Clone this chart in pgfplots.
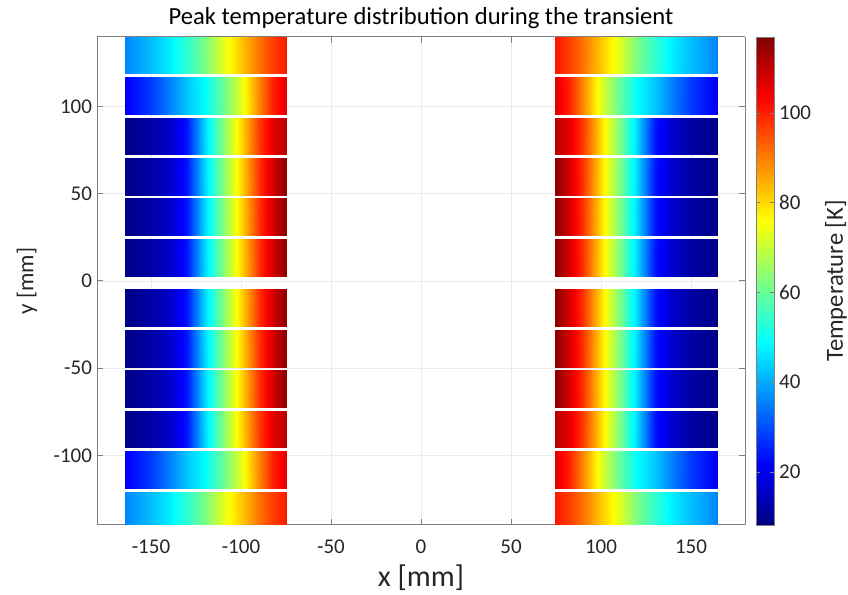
\documentclass[border=0pt]{standalone}
\usepackage{fontspec}
\setmainfont{Carlito}
\usepackage{pgfplots}
\usepackage{pgfplotstable}
\pgfplotsset{compat=1.18}
\pgfplotsset{/pgf/number format/assume math mode=true}
\definecolor{axgray}{HTML}{7F7F7F}
\definecolor{txtgray}{HTML}{262626}

% peak temperature [K] against distance from the centre |x| [mm]
% A: outermost blocks, B: second blocks, C: third blocks, D: three inner blocks
\pgfplotstableread{
x     A    B    C    D
164.5 36   21   9    9
150   42   28   12   12
140   47   35   16   16
130   54   43   24   24
120   62   49   45   45
110   73   60   63   63
100   82   73   80   80
90    91   89   97   98
82    97   100  106  108
74.7  101  106  111  116
}\prof
% two copies -> bottom (r=0) and top (r=1) edge of each block
\pgfplotstablevertcat{\profmesh}{\prof}
\pgfplotstablevertcat{\profmesh}{\prof}
\pgfplotstablecreatecol[expr={\pgfplotstablerow<10 ? 0 : 1}]{r}{\profmesh}

% #1 profile, #2 side (+1/-1), #3 y bottom, #4 y top
\newcommand{\blk}[4]{%
  \addplot3[surf, shader=interp, mesh/rows=2, point meta=explicit]
    table[x expr={#2*\thisrow{x}}, y expr={#3+\thisrow{r}*(#4-#3)}, z expr=0, meta=#1] {\profmesh};
}

\begin{document}
\begin{tikzpicture}
\begin{axis}[
    set layers,
    width=324pt, height=244pt, scale only axis,
    view={0}{90},
    xmin=-180, xmax=180, ymin=-140, ymax=140, zmin=-1, zmax=1,
    xtick={-150,-100,...,150}, ytick={-100,-50,...,100}, ztick=\empty,
    grid=major,
    major grid style={draw=black!8, line width=0.4pt},
    axis line style={draw=axgray, line width=0.5pt},
    tick style={draw=axgray, line width=0.5pt},
    tick align=inside, major tick length=3pt,
    tick label style={font=\fontsize{10.5}{12}\selectfont, text=txtgray},
    xticklabel style={yshift=-4pt},
    yticklabel style={xshift=1pt},
    every axis x label/.style={at={(axis description cs:0.5,0)}, yshift=-26.5pt, anchor=center,
        font=\fontsize{15}{17}\selectfont, text=txtgray},
    every axis y label/.style={at={(axis description cs:0,0.5)}, xshift=-35pt, rotate=90, anchor=center,
        font=\fontsize{11.5}{13}\selectfont, text=txtgray},
    title style={font=\fontsize{12.3}{14}\selectfont, text=black, yshift=-5.5pt},
    title={Peak temperature distribution during the transient},
    xlabel={x [mm]}, ylabel={y [mm]},
    colormap/jet,
    point meta min=8.2, point meta max=116.9,
    colorbar,
    colorbar style={
        width=9pt,
        at={(parent axis.north east)}, anchor=north west, xshift=-3pt,
        ytick={20,40,...,100},
        yticklabel style={font=\fontsize{10.5}{12}\selectfont, text=txtgray, xshift=-1pt},
        ylabel={Temperature [K]},
        every axis y label/.style={at={(axis description cs:1,0.5)}, xshift=31pt, rotate=90, anchor=center,
            font=\fontsize{12.3}{14}\selectfont, text=txtgray},
        axis line style={draw=axgray},
        tick style={draw=axgray},
        major tick length=2pt,
    },
]
% left side
\blk{A}{-1}{119.8}{141}
\blk{B}{-1}{96.8}{117.8}
\blk{C}{-1}{73.4}{94.6}
\blk{D}{-1}{50.2}{71.6}
\blk{D}{-1}{27.0}{48.4}
\blk{D}{-1}{3.6}{25.2}
\blk{D}{-1}{-25.2}{-3.6}
\blk{D}{-1}{-48.4}{-27.0}
\blk{D}{-1}{-71.6}{-50.2}
\blk{C}{-1}{-94.6}{-73.4}
\blk{B}{-1}{-117.8}{-96.8}
\blk{A}{-1}{-141}{-119.8}
% right side
\blk{A}{1}{119.8}{141}
\blk{B}{1}{96.8}{117.8}
\blk{C}{1}{73.4}{94.6}
\blk{D}{1}{50.2}{71.6}
\blk{D}{1}{27.0}{48.4}
\blk{D}{1}{3.6}{25.2}
\blk{D}{1}{-25.2}{-3.6}
\blk{D}{1}{-48.4}{-27.0}
\blk{D}{1}{-71.6}{-50.2}
\blk{C}{1}{-94.6}{-73.4}
\blk{B}{1}{-117.8}{-96.8}
\blk{A}{1}{-141}{-119.8}
\coordinate (sw) at (rel axis cs:0,0,0);
\coordinate (ne) at (rel axis cs:1,1,0);
\end{axis}
\pgfresetboundingbox
\path ([xshift=-48.5pt,yshift=-35pt]sw) rectangle ([xshift=51.5pt,yshift=18.5pt]ne);
\end{tikzpicture}
\end{document}
